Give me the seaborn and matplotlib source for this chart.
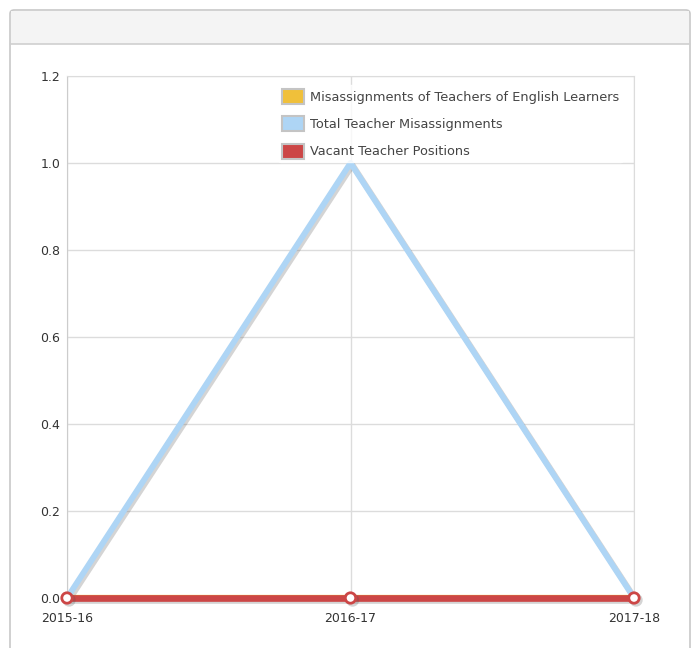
import matplotlib.pyplot as plt
import matplotlib.patches as mpatches
import matplotlib.patheffects as pe
import pandas as pd
import seaborn as sns

# chart data
years = ['2015-16', '2016-17', '2017-18']
english_learners = [0, 0, 0]
total_misassign = [0, 1, 0]
vacant = [0, 0, 0]
series_names = ['Misassignments of Teachers of English Learners',
                'Total Teacher Misassignments',
                'Vacant Teacher Positions']
colors = ['#f0c03a', '#aed5f5', '#cc4646']

df = pd.DataFrame({'year': years * 3,
                   'x': list(range(len(years))) * 3,
                   'value': english_learners + total_misassign + vacant,
                   'series': [s for s in series_names for _ in years]})

sns.set_style('white')
plt.rcParams['font.family'] = ['DejaVu Sans']

fig = plt.figure(figsize=(6.97, 6.48), dpi=100)

# panel border + header band (kept behind the axes)
W, H = 697, 648
fig.patches.append(mpatches.FancyBboxPatch((10 / W, -0.05), 680 / W, (638 / H) + 0.05,
                                           boxstyle='round,pad=0,rounding_size=0.006',
                                           transform=fig.transFigure, facecolor='white',
                                           edgecolor='#c8c8c8', lw=1.2, zorder=-3))
fig.patches.append(mpatches.Rectangle((11 / W, (648 - 44) / H), 678 / W, 33 / H,
                                      transform=fig.transFigure, facecolor='#f4f4f4',
                                      edgecolor='none', zorder=-2))
fig.lines.append(plt.Line2D([10 / W, 690 / W], [(648 - 44) / H] * 2,
                            transform=fig.transFigure, color='#cfcfcf', lw=1.2, zorder=-1))

ax = fig.add_axes([67 / W, 50 / H, (634 - 67) / W, (598 - 76) / H])
ax.set_facecolor('none')

shadow = [pe.SimpleLineShadow(offset=(1.5, -1.5), alpha=0.25, shadow_color='#555555'), pe.Normal()]

sub = df[df.series == series_names[0]]
sns.lineplot(data=sub, x='x', y='value', color=colors[0], lw=4.5, ax=ax,
             path_effects=shadow, legend=False)
sub = df[df.series == series_names[1]]
sns.lineplot(data=sub, x='x', y='value', color=colors[1], lw=4.2, ax=ax,
             path_effects=shadow, legend=False)
sub = df[df.series == series_names[2]]
sns.lineplot(data=sub, x='x', y='value', color=colors[2], lw=4.8, ax=ax,
             path_effects=shadow, legend=False, marker='o', markersize=7.5,
             markerfacecolor='white', markeredgecolor=colors[2], markeredgewidth=2,
             clip_on=False, zorder=5)

ax.set_xlim(0, len(years) - 1)
ax.set_ylim(0, 1.2)
ax.set_xticks(range(len(years)))
ax.set_xticklabels(years)
ax.set_yticks([0, 0.2, 0.4, 0.6, 0.8, 1.0, 1.2])
ax.set_yticklabels(['0.0', '0.2', '0.4', '0.6', '0.8', '1.0', '1.2'])
ax.grid(True, color='#dcdcdc', lw=1)
ax.set_axisbelow(True)
ax.set_xlabel('')
ax.set_ylabel('')
for s in ax.spines.values():
    s.set_color('#dcdcdc')
ax.spines['left'].set_color('#cccccc')
ax.tick_params(axis='y', length=0, labelsize=9, labelcolor='#333333', pad=5)
ax.tick_params(axis='x', length=0, labelsize=9, labelcolor='#333333', pad=10)

handles = [mpatches.Patch(facecolor=c, edgecolor='#c4c4c4', lw=1.5) for c in colors]
leg = ax.legend(handles, series_names, loc='upper left', bbox_to_anchor=(0.372, 0.982),
                frameon=True, prop={'family': ['DejaVu Sans'], 'size': 9.3},
                handlelength=1.7, handleheight=1.4,
                handletextpad=0.45, labelspacing=0.95, borderpad=0.3, borderaxespad=0)
leg.get_frame().set_facecolor('white')
leg.get_frame().set_edgecolor('white')
for t in leg.get_texts():
    t.set_color('#444444')

fig.savefig('out.png', dpi=100)
